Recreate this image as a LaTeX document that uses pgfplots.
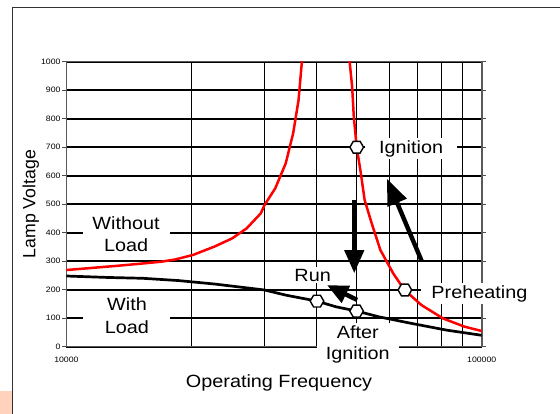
\documentclass[border=0pt]{standalone}
\usepackage{fontspec}
\setmainfont{Liberation Sans}[FakeStretch=1.12]
\newfontfamily\plainsans{Liberation Sans}
\usepackage{pgfplots}
\pgfplotsset{compat=1.18}
\usetikzlibrary{arrows.meta}

\definecolor{cornerpatch}{HTML}{FFD2BC}

% hexagonal plot mark (vertices left and right)
\pgfdeclareplotmark{hexagon}{%
  \pgfpathmoveto{\pgfpointpolar{0}{\pgfplotmarksize}}%
  \pgfpathlineto{\pgfpointpolar{60}{\pgfplotmarksize}}%
  \pgfpathlineto{\pgfpointpolar{120}{\pgfplotmarksize}}%
  \pgfpathlineto{\pgfpointpolar{180}{\pgfplotmarksize}}%
  \pgfpathlineto{\pgfpointpolar{240}{\pgfplotmarksize}}%
  \pgfpathlineto{\pgfpointpolar{300}{\pgfplotmarksize}}%
  \pgfpathclose
  \pgfusepathqfillstroke}

% lamp voltage without load (two branches around resonance)
\pgfplotstableread{
f      v
10000  269
13300  284
15280  292
16870  298
18280  306
20180  322
22700  351
25060  380
27160  415
29380  468
29990  497
31840  556
33730  643
35160  749
36220  865
36900  1000
37300  1100
}\noloadlow
\pgfplotstableread{
f      v
47700  1100
48080  1000
48750  912
49200  807
50000  700
51170  608
52240  515
54330  433
57020  339
61240  257
65160  199
71610  146
80720  99
90990  70
100000 55
}\noloadhigh
% lamp voltage with load
\pgfplotstableread{
f      v
10000  248
12530  243
15280  240
18620  232
22700  220
26610  208
29990  199
33730  181
40090  160
44570  140
50000  125
56490  105
67610  82
82410  58
100000 40
}\withload
% operating points
\pgfplotstableread{
f      v
50000  700
65310  199
49970  125
40120  160
}\oppoints

\begin{document}
\begin{tikzpicture}
\path[use as bounding box] (0,0) rectangle (560pt,414pt);
\fill[cornerpatch] (0,0) rectangle (12.3pt,23pt);
\draw[line width=1.3pt, black!80] (12.7pt,0) -- (12.7pt,406.7pt) -- (560pt,406.7pt);
\begin{axis}[
  at={(66.4pt,67.3pt)}, anchor=south west,
  scale only axis, width=415.3pt, height=285pt,
  xmode=log, xmin=10000, xmax=100000,
  ymin=0, ymax=1000,
  xtick={10000,100000}, xticklabels={10000,100000},
  minor xtick={20000,30000,40000,50000,60000,70000,80000,90000},
  ytick={0,100,...,1000},
  xminorgrids, ymajorgrids,
  major grid style={black, line width=1.8pt},
  minor grid style={black, line width=0.9pt},
  axis line style={black!65, line width=1.6pt},
  tick align=outside,
  major tick length=4pt, minor tick length=0pt,
  x tick style={draw=none},
  y tick style={black!70, line width=0.8pt},
  /pgf/number format/assume math mode=true,
  /pgf/number format/1000 sep={},
  ticklabel style={font=\fontsize{7.8}{9}\selectfont},
  yticklabel style={anchor=east, inner sep=0pt, xshift=-1.7pt},
  xticklabel style={anchor=north, inner sep=0pt, yshift=-6pt},
  xlabel={Operating Frequency},
  ylabel={\plainsans Lamp Voltage},
  label style={font=\fontsize{17.7}{20}\selectfont},
  xlabel style={at={(axis description cs:0.512,-0.1274)}, anchor=center},
  ylabel style={at={(axis description cs:-0.086,0.5)}, anchor=center},
  clip mode=individual,
]
% region and point labels on white boxes
\node[fill=white, align=center, inner xsep=9pt, inner ysep=2pt, minimum width=87pt,
      font=\fontsize{17.7}{22.5}\selectfont] at (axis cs:13920,395) {Without\\Load};
\node[fill=white, align=center, inner xsep=9pt, inner ysep=2pt, minimum width=87pt,
      font=\fontsize{17.7}{22.5}\selectfont] at (axis cs:13990,108) {With\\Load};
\node[fill=white, anchor=base, inner xsep=14pt, inner ysep=2pt,
      font=\fontsize{17.7}{20}\selectfont] at (axis cs:67610,678.6) {Ignition};
\node[fill=white, anchor=base west, inner xsep=10pt, inner ysep=2pt,
      font=\fontsize{17.7}{20}\selectfont] at (axis cs:71540,170) {Preheating};
\node[fill=white, anchor=base, inner sep=1.5pt,
      font=\fontsize{17.7}{20}\selectfont] at (axis cs:39170,230.5) {Run};
\node[fill=white, align=center, inner xsep=9pt, inner ysep=3pt,
      font=\fontsize{17.7}{20.5}\selectfont] at (axis cs:50300,7.7) {After\\Ignition};

% curves
\addplot[red, line width=2.5pt] table[x=f, y=v] {\noloadlow};
\addplot[red, line width=2.5pt] table[x=f, y=v] {\noloadhigh};
\addplot[black, line width=2.7pt] table[x=f, y=v] {\withload};

% operating points
\addplot[only marks, mark=hexagon, mark size=6.8pt,
         mark options={fill=white, draw=black, line width=1.4pt}]
  table[x=f, y=v] {\oppoints};

% transitions between operating points
\draw[line width=4.4pt, -{Triangle[width=19pt,length=23pt]}]
  (axis cs:49330,513) -- (axis cs:49330,258);
\draw[line width=4.4pt, -{Triangle[width=20pt,length=26pt]}]
  (axis cs:71620,302) -- (axis cs:59160,589);
\draw[line width=4.4pt, -{Triangle[width=18pt,length=21pt]}]
  (axis cs:50120,164) -- (axis cs:42420,216);
\end{axis}
\end{tikzpicture}
\end{document}
